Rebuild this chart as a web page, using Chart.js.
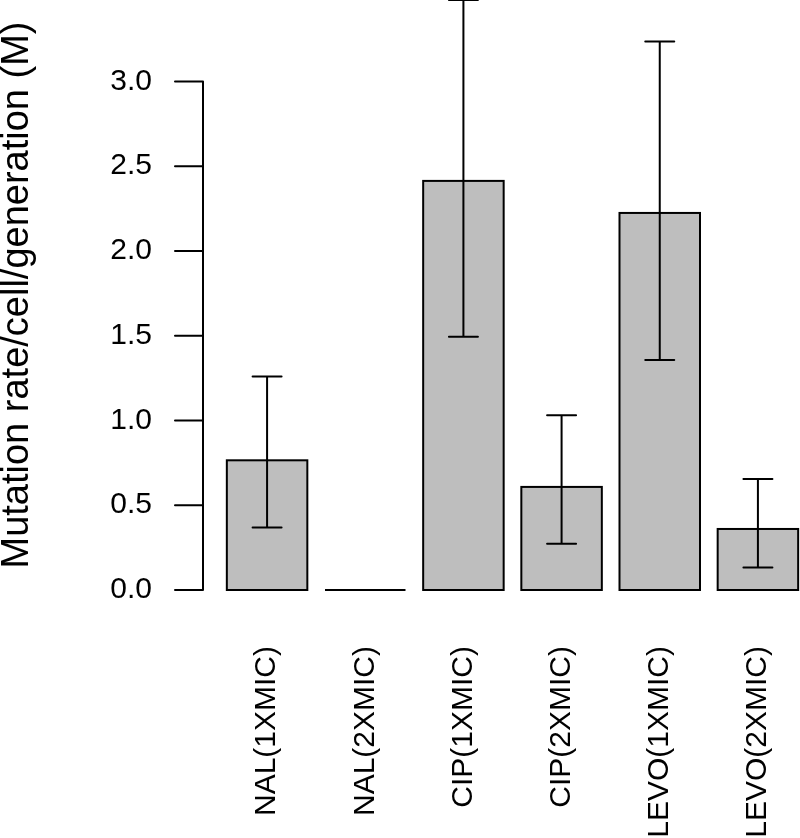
<!DOCTYPE html>
<html>
<head>
<meta charset="utf-8">
<script src="https://cdn.jsdelivr.net/npm/chart.js@4/dist/chart.umd.min.js"></script>
<style>
html,body{margin:0;padding:0;background:#fff;overflow:hidden}
#wrap{width:800px;height:838px;overflow:hidden;position:relative}
canvas{display:block}
</style>
</head>
<body>
<div id="wrap"><canvas id="c" width="808" height="838"></canvas></div>
<script>
const categories = ['NAL(1XMIC)', 'NAL(2XMIC)', 'CIP(1XMIC)', 'CIP(2XMIC)', 'LEVO(1XMIC)', 'LEVO(2XMIC)'];
const rates      = [0.765, 0, 2.413, 0.608, 2.224, 0.360];
const errLower   = [0.369, null, 1.494, 0.273, 1.357, 0.133];
const errUpper   = [1.260, null, 3.480, 1.030, 3.235, 0.655];
const yTicks     = [0, 0.5, 1.0, 1.5, 2.0, 2.5, 3.0];
const yMin = 0;
const yMax = 3.48;
const yTitle = 'Mutation rate/cell/generation (M)';

Chart.defaults.font.family = "'Liberation Sans', Arial, Helvetica, sans-serif";
Chart.defaults.color = '#000';

const rStyle = {
  id: 'rStyle',
  afterDatasetsDraw(chart) {
    const ctx = chart.ctx;
    const ys = chart.scales.y;
    const meta = chart.getDatasetMeta(0);
    ctx.save();
    ctx.strokeStyle = '#000';
    ctx.lineWidth = 2;
    // bar outlines
    meta.data.forEach((bar) => {
      const p = bar.getProps(['x', 'y', 'base', 'width'], true);
      ctx.strokeRect(p.x - p.width / 2, Math.min(p.y, p.base), p.width, Math.abs(p.base - p.y));
    });
    // error bars
    ctx.lineCap = 'round';
    const cap = 14.5;
    meta.data.forEach((bar, i) => {
      if (errLower[i] == null || errUpper[i] == null) return;
      const x = bar.x;
      const yl = ys.getPixelForValue(errLower[i]);
      const yu = ys.getPixelForValue(errUpper[i]);
      ctx.beginPath();
      ctx.moveTo(x, yl); ctx.lineTo(x, yu);
      ctx.moveTo(x - cap, yl); ctx.lineTo(x + cap, yl);
      ctx.moveTo(x - cap, yu); ctx.lineTo(x + cap, yu);
      ctx.stroke();
    });
    // R-style detached y axis
    const ax = chart.chartArea.left - 15;
    ctx.beginPath();
    ctx.moveTo(ax, ys.getPixelForValue(yTicks[0]));
    ctx.lineTo(ax, ys.getPixelForValue(yTicks[yTicks.length - 1]));
    yTicks.forEach(v => {
      const p = ys.getPixelForValue(v);
      ctx.moveTo(ax - 28, p);
      ctx.lineTo(ax, p);
    });
    ctx.stroke();
    ctx.restore();
  }
};

new Chart(document.getElementById('c'), {
  type: 'bar',
  data: {
    labels: categories,
    datasets: [{
      data: rates,
      backgroundColor: '#bebebe',
      borderWidth: 0,
      barPercentage: 0.82,
      categoryPercentage: 1
    }]
  },
  options: {
    responsive: false,
    animation: false,
    events: [],
    layout: { padding: { left: 0, right: 1, top: 0, bottom: 0 } },
    plugins: { legend: { display: false }, tooltip: { enabled: false }, title: { display: false } },
    scales: {
      x: {
        offset: true,
        afterFit: s => { s.height = 248; s.paddingLeft = 0; s.paddingRight = 0; },
        grid: { display: false, drawTicks: false },
        border: { display: false },
        ticks: { minRotation: 90, maxRotation: 90, autoSkip: false, padding: 56, font: { size: 30 }, color: '#000' }
      },
      y: {
        min: yMin,
        max: yMax,
        afterBuildTicks: s => { s.ticks = yTicks.map(v => ({ value: v })); },
        afterFit: s => { s.width = 218; s.paddingTop = 0; s.paddingBottom = 0; },
        grid: { display: false, drawTicks: false },
        border: { display: false },
        ticks: { padding: 66, font: { size: 30 }, color: '#000', autoSkip: false, callback: v => Number(v).toFixed(1) },
        title: { display: true, text: yTitle, font: { size: 38, lineHeight: 0.9 }, padding: 0, color: '#000' }
      }
    }
  },
  plugins: [rStyle]
});
</script>
</body>
</html>
